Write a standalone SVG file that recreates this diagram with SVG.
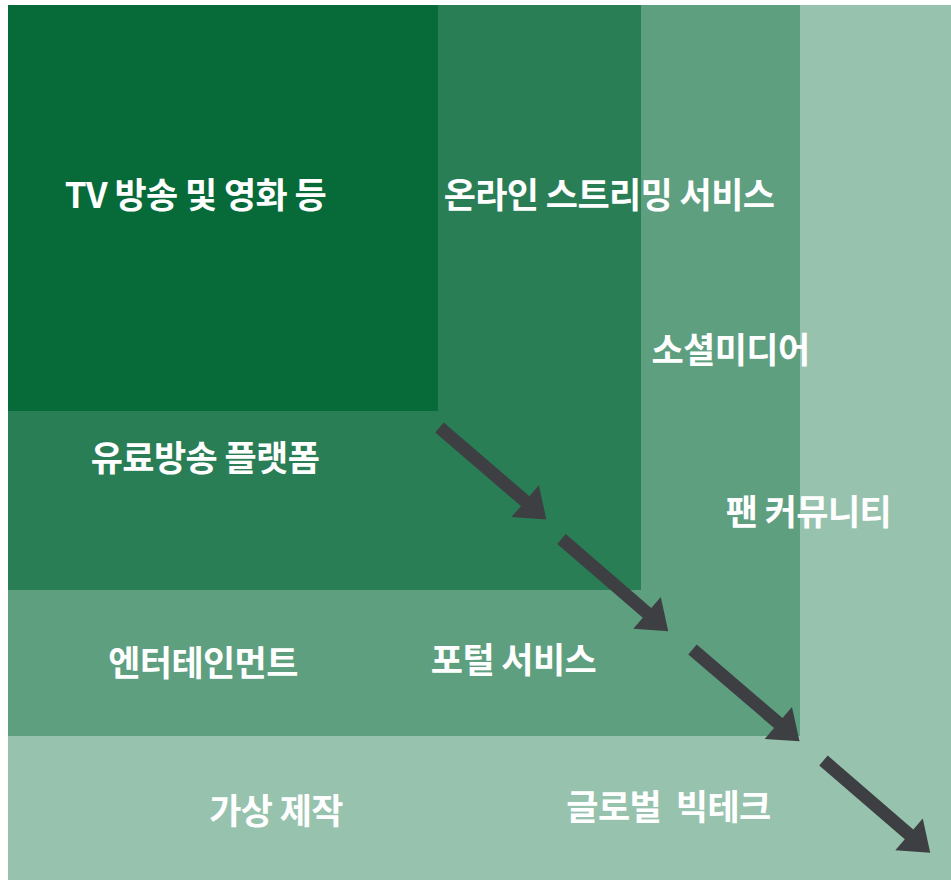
<svg xmlns="http://www.w3.org/2000/svg" xmlns:xlink="http://www.w3.org/1999/xlink" width="951" height="880" viewBox="0 0 951 880">
<style>
.lbl{font-family:"Noto Sans CJK KR","Noto Sans",sans-serif;font-weight:700;font-size:35px;fill:#ffffff;text-anchor:middle;letter-spacing:-0.6px;white-space:pre}
.arr{fill:#3e3f43}
</style>
<defs>
<polygon id="arrow" points="0,-6.5 113,-6.5 113,-21 141,0 113,21 113,6.5 0,6.5"/>
</defs>
<rect width="951" height="880" fill="#ffffff"/>
<g id="layer4"><rect x="8" y="5" width="943" height="875" fill="#97c3ae"/></g>
<g id="layer3"><rect x="8" y="5" width="792" height="731" fill="#5e9f80"/></g>
<g id="layer2"><rect x="8" y="5" width="633" height="585" fill="#2a7e55"/></g>
<g id="layer1"><rect x="8" y="5" width="430" height="406" fill="#066a39"/></g>
<g id="labels">
<g id="n-tv"><text class="lbl" x="195.5" y="208">TV 방송 및 영화 등</text></g>
<g id="n-ott"><text class="lbl" x="609" y="208">온라인 스트리밍 서비스</text></g>
<g id="n-social"><text class="lbl" x="730.5" y="363">소셜미디어</text></g>
<g id="n-paytv"><text class="lbl" x="205" y="471">유료방송 플랫폼</text></g>
<g id="n-fan"><text class="lbl" x="808.5" y="525">팬 커뮤니티</text></g>
<g id="n-ent"><text class="lbl" x="203" y="676">엔터테인먼트</text></g>
<g id="n-portal"><text class="lbl" x="513.5" y="673">포털 서비스</text></g>
<g id="n-virtual"><text class="lbl" x="276" y="824">가상 제작</text></g>
<g id="n-bigtech"><text class="lbl" x="668.5" y="820" xml:space="preserve">글로벌  빅테크</text></g>
</g>
<g id="connectors" class="arr">
<use xlink:href="#arrow" transform="translate(439.5,427.5) rotate(40.7)"/>
<use xlink:href="#arrow" transform="translate(561.5,539) rotate(40.8)"/>
<use xlink:href="#arrow" transform="translate(692.5,649.5) rotate(40.6)"/>
<use xlink:href="#arrow" transform="translate(823.5,760.5) rotate(40.8)"/>
</g>
</svg>
